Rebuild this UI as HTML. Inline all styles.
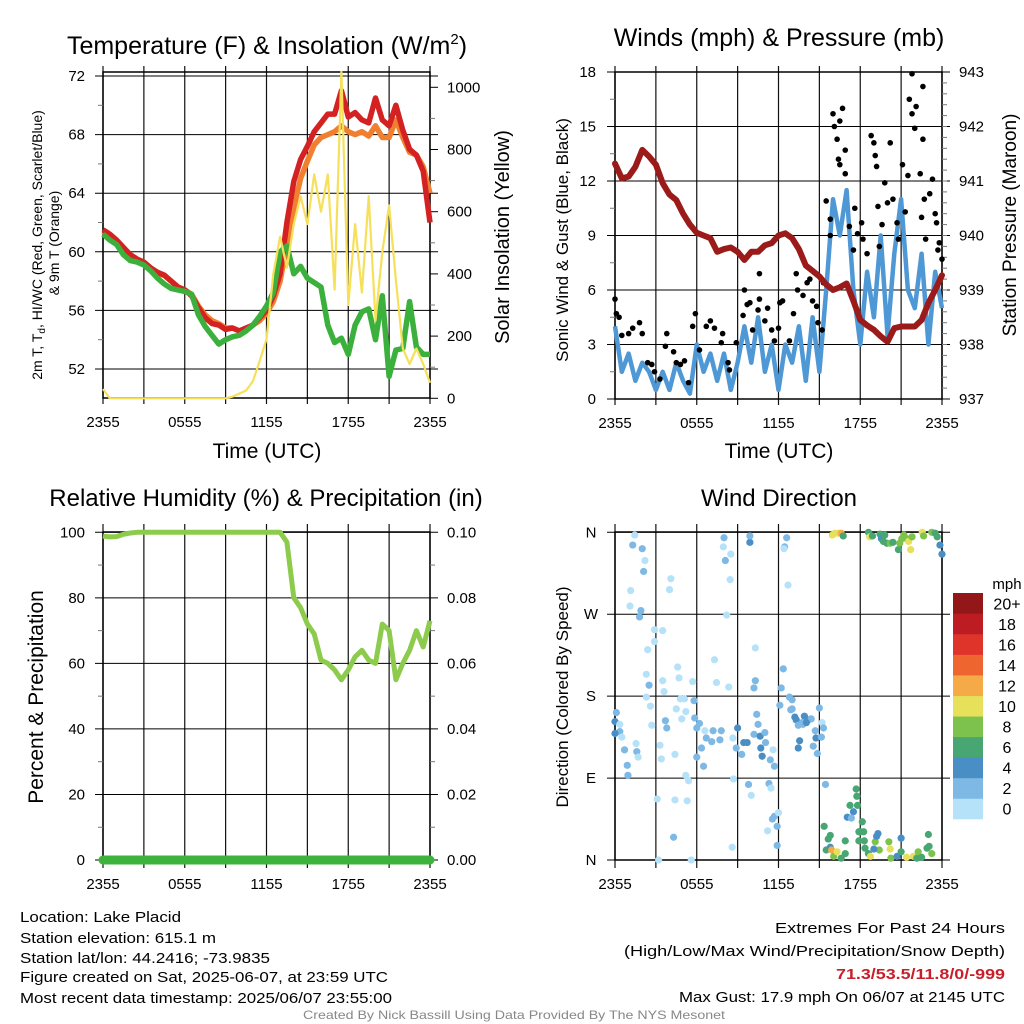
<!DOCTYPE html>
<html><head><meta charset="utf-8"><title>Lake Placid Mesonet</title>
<style>
html,body{margin:0;padding:0;background:#fff;}
svg{display:block;font-family:"Liberation Sans",Arial,sans-serif;}
</style></head>
<body>
<svg id="chart" width="1024" height="1024" viewBox="0 0 1024 1024" xmlns="http://www.w3.org/2000/svg"></svg>
<script>
// ---------- data ----------
const hours = [0,0.5,1,1.5,2,2.5,3,3.5,4,4.5,5,5.5,6,6.5,7,7.5,8,8.5,9,9.5,10,10.5,11,11.5,12,12.5,13,13.5,14,14.5,15,15.5,16,16.5,17,17.5,18,18.5,19,19.5,20,20.5,21,21.5,22,22.5,23,23.5,24];
const timeTickHours = [0,6,12,18,24];
const timeTickLabels = ["2355","0555","1155","1755","2355"];
const tempRed = [61.5,61.2,60.8,60.3,59.8,59.5,59.3,58.9,58.6,58.4,58.0,57.6,57.4,57.0,56.2,55.5,55.1,55.0,54.7,54.8,54.6,54.8,55.0,55.5,56.0,57.0,58.5,62.0,64.8,66.3,67.2,68.2,68.8,69.4,69.4,71.0,69.2,69.5,69.0,68.8,70.5,69.0,68.6,70.0,68.3,67.0,66.6,65.5,62.0];
const temp9m = [61.4,61.1,60.7,60.1,59.7,59.4,59.2,58.9,58.5,58.4,58.0,57.6,57.4,57.1,56.3,55.7,55.3,55.1,54.8,54.8,54.6,54.7,55.0,55.3,55.8,56.6,58.0,60.5,63.0,65.0,66.2,67.3,67.8,68.0,68.2,68.6,68.2,68.0,68.2,67.9,68.6,67.8,67.8,69.0,67.8,66.8,66.6,65.8,64.0];
const dewpoint = [61.2,60.8,60.5,59.8,59.4,59.3,59.1,58.7,58.2,57.8,57.5,57.4,57.3,57.1,55.7,54.9,54.3,53.7,54.0,54.2,54.3,54.6,55.0,55.6,56.3,57.2,60.0,60.4,58.5,59.0,58.2,57.9,57.6,55.0,53.8,54.1,53.0,55.0,55.9,56.1,54.0,57.0,51.5,53.3,53.4,56.6,53.5,53.0,53.0];
const insolation = [30,0,0,0,0,0,0,0,0,0,0,0,0,0,0,0,0,0,0,5,15,25,55,120,190,400,520,420,560,650,560,720,600,720,350,1050,300,560,340,650,250,470,620,380,160,110,160,110,50];
const tempTicks = [52,56,60,64,68,72];
const insolTicks = [0,200,400,600,800,1000];
const windSpeed = [4,1.5,2.5,1,2,1.5,0.5,1.5,0.5,2,1,0.3,3,1.5,2.5,1,2.5,0.5,2,4,2,4.5,1.5,3,0.5,3,2,4,1,4.5,1.5,6,11,9,11.5,6,3,7,4.5,9,3.5,8,11,6,5,8,3,7,5];
const pressure = [941.32,941.05,941.08,941.26,941.57,941.45,941.3,940.96,940.75,940.65,940.4,940.2,940.05,940.0,939.95,939.7,939.75,939.78,939.7,939.55,939.7,939.7,939.82,939.86,940.0,940.04,939.95,939.75,939.45,939.35,939.25,939.1,939.0,939.05,939.12,938.8,938.45,938.35,938.27,938.15,938.05,938.3,938.33,938.33,938.33,938.45,938.76,939.0,939.27];
const gustTimes = [0,0.1,0.3,0.5,1,1.3,1.8,2,2.4,2.7,2.9,3.3,3.8,3.7,4.3,4.5,4.8,5.1,5.4,5.9,5.7,6.2,6.7,7,7.3,7.9,7.8,8.3,8.4,8.9,9.4,9.5,9.7,9.9,10.1,10.5,10.6,10.6,11,11.2,11.5,11.7,12,12.1,12.3,12.8,13.1,13.3,13.4,13.8,14.1,14.3,14.5,14.8,14.9,15.2,15.3,15.5,15.8,15.8,16,16.1,16.3,16.5,16.7,16.9,16.4,16.5,16.9,17.2,17.5,17.6,17.8,18.1,18.2,18.5,18.8,19,19.1,19.2,19.3,19.4,19.6,19.8,20.2,20.0,20.4,20.7,20.8,21.1,21.3,21.5,21.6,21.8,21.8,22,22.1,22.4,22.6,22.6,22.5,22.7,22.8,23.1,23.3,23.5,23.6,23.7,23.8,24];
const gustSpeeds = [5.5,4.7,4.5,3.5,3.6,3.9,4.2,3.6,2.0,1.9,1.5,1.1,3.6,2.9,2.6,2.0,1.9,2.1,0.9,4.7,4.0,2.7,4.0,4.3,3.9,3.6,3.1,2.0,1.6,3.1,4.6,6.0,5.2,5.3,3.8,4.9,5.5,6.9,4.3,5.0,3.8,3.2,3.9,5.3,5.4,3.2,4.7,6.9,6.0,5.7,6.4,6.6,5.4,5.1,4.2,3.8,6.4,10.9,9.9,9.0,15.7,15.0,14.3,15.3,16.0,13.7,13.2,12.9,12.4,9.5,8.2,10.5,9.1,9.7,8.8,8.0,14.5,14.1,13.4,12.8,10.6,8.4,9.6,11.9,14.1,10.8,11.0,9.7,8.8,12.9,10.3,12.3,16.5,15.7,17.9,14.9,16.1,12.4,17.2,14.3,10.0,11.0,8.8,11.3,12.1,10.2,9.7,8.2,8.6,7.7];
const windTicks = [0,3,6,9,12,15,18];
const pressTicks = [937,938,939,940,941,942,943];
const relHumidity = [98.8,98.6,98.7,99.4,99.8,100,100,100,100,100,100,100,100,100,100,100,100,100,100,100,100,100,100,100,100,100,100,97,80,77,72,69,61,60,58,55,58,62,64,61,60,72,70,55,60,64,70,65,73];
const precip = [0,0,0,0,0,0,0,0,0,0,0,0,0,0,0,0,0,0,0,0,0,0,0,0,0,0,0,0,0,0,0,0,0,0,0,0,0,0,0,0,0,0,0,0,0,0,0,0,0];
const rhTicks = [0,20,40,60,80,100];
const precipTickLabels = ["0.00","0.02","0.04","0.06","0.08","0.10"];
const dirTimes = [1.45,1.3,2.0,2.2,2.1,1.15,1.1,1.9,1.8,2.9,2.9,2.4,2.3,2.5,2.3,2.6,2.7,0.1,0,0.35,0.35,0,0.5,0.7,1.55,1.6,1.7,0.9,0.95,4.1,4.0,3.5,3.5,3.6,3.7,3.8,3.3,3.4,3.1,4.4,4.4,4.3,3.2,4.6,4.7,4.8,5.1,4.5,4.9,5.2,5.2,5.4,5.3,5.7,5.8,5.85,6.0,6.2,6.0,6.5,5.6,6.6,6.35,6.7,7.1,7.2,7.3,7.45,7.7,7.8,8.0,7.95,8.1,8.5,8.45,8.2,8.35,8.65,8.7,9.0,8.9,9.3,9.45,9.7,8.6,9.8,10.0,9.9,9.9,10.3,10.3,10.2,10.4,10.5,10.2,10.65,11.0,10.7,10.8,11.05,11.4,11.6,11.7,11.3,11.45,11.2,11.55,11.7,12.0,11.9,11.9,12.6,12.45,12.4,12.7,12.35,12.2,12.1,12.8,13.0,13.0,12.9,13.2,13.3,13.45,13.8,13.9,14.2,14.4,13.55,13.45,13.75,14.05,14.55,14.7,14.75,14.85,15.0,15.2,15.3,15.15,15.45,15.35,15.8,15.65,15.5,15.8,15.9,16.05,16.3,16.6,16.9,16.9,17.7,17.75,17.25,17.5,17.8,17.05,17.35,17.9,18.15,18.0,18.25,17.9,18.3,18.35,18.6,18.75,19.1,19.2,19.3,19.4,19.0,20.1,20.2,20.25,20.7,21.0,21.0,21.4,21.9,22.15,22.25,22.5,22.9,23.0,23.05,23.25,15.95,16.15,16.4,16.6,16.75,18.6,18.7,18.9,19.45,19.55,19.7,19.8,19.95,20.2,20.4,20.8,20.9,21.05,21.2,21.4,21.55,21.7,21.8,22.55,22.65,23.25,23.5,23.65,23.85,24];
const dirDegrees = [357,346,342,329,317,296,279,274,267,253,240,231,204,192,179,169,148,162,152,149,141,139,135,121,128,119,113,104,93,309,297,252,197,185,153,145,126,111,67,116,66,25,0,212,200,177,177,166,155,163,93,87,65,196,175,156,145,150,113,103,0,142,123,134,130,142,220,195,132,142,354,344,329,336,308,269,190,134,89,145,123,116,129,129,14,83,71,349,356,233,197,189,160,149,138,136,140,123,114,129,110,121,103,84,79,32,45,48,52,37,16,354,344,342,302,210,189,170,179,176,166,165,157,154,148,149,158,154,155,131,123,151,151,125,142,134,117,167,151,145,135,83,37,27,23,11,14,11,4,9,2,7,21,78,70,60,53,60,47,46,31,42,31,31,21,21,13,7,4,20,26,29,11,12,20,12,2,4,24,9,3,4,2,9,3,13,28,15,7,357,359,359,359,356,360,355,356,358,353,350,357,348,348,349,341,348,353,357,353,350,341,355,360,356,360,359,355,346,336];
const dirSpeeds = [1,3,3,1,3,1,1,3,3,1,1,1,1,3,1,1,1,3,4,1,3,4,1,3,1,3,1,3,3,1,1,1,1,1,3,3,1,1,1,1,1,3,1,1,1,1,1,1,1,1,1,1,1,1,3,3,3,3,3,3,1,1,3,3,3,3,1,1,3,3,3,1,3,1,1,1,1,1,1,4,3,3,4,4,1,3,1,4,3,1,3,3,3,3,3,4,3,4,4,3,3,1,3,3,1,1,3,3,1,3,3,3,3,1,1,3,3,3,3,3,3,3,4,4,3,3,4,4,3,4,4,3,4,3,3,4,3,3,1,3,3,3,6,6,6,6,4,12,8,10,6,6,6,6,6,6,4,6,4,2,6,6,6,6,6,6,6,6,10,8,4,4,8,4,8,10,8,4,4,6,10,10,6,8,6,6,6,6,8,10,10,10,12,6,6,10,6,6,4,6,6,6,8,6,6,8,8,8,8,10,10,8,10,8,8,6,6,4,4,4,4,4];
const dirTickLabels = ["N","E","S","W","N"];
const speedBins = ["0","2","4","6","8","10","12","14","16","18","20+"];

// ---------- helpers ----------
const NS = "http://www.w3.org/2000/svg";
const svg = document.getElementById('chart');
function mk(tag, attrs, parent){
  const e = document.createElementNS(NS, tag);
  for (const k in attrs) e.setAttribute(k, attrs[k]);
  (parent || svg).appendChild(e);
  return e;
}
function txt(s, x, y, size, anchor, parent, extra){
  const t = mk('text', Object.assign({x:x, y:y, 'font-size':size, 'text-anchor':anchor||'middle', fill:'#000'}, extra||{}), parent);
  t.textContent = s;
  return t;
}
function group(name){
  const g = mk('g', {});
  
  
  return g;
}
function pathFrom(xs, ys){
  let d = '';
  for (let i = 0; i < xs.length; i++) d += (i ? 'L' : 'M') + xs[i].toFixed(1) + ' ' + ys[i].toFixed(1);
  return d;
}
const speedColors = ['#b5e2f8','#7db9e4','#4a8ec6','#48a672','#7dc24c','#e6e05a','#f6aa47','#ef652f','#de3429','#bd1c23','#931619'];
function speedColor(s){ if (s === undefined || isNaN(s)) return speedColors[2]; const i = Math.min(10, Math.floor(s/2)); return speedColors[i]; }

// ---------- scales ----------
const L1 = 103, R1 = 430, L2 = 615, R2 = 942;
const hourPx = (R1 - L1) / 24;
function xLeft(t){ return L1 + t*hourPx; }
function xRight(t){ return L2 + t*hourPx; }
const yTemp = v => 369 - (v - 52) * (293/20);
const yInsol = v => 398.3 - v * (311/1000);
const yWind = v => 399 - v * (327/18);
const yPress = v => 399 - (v - 937) * (327/6);
const yRH = v => 860 - v * (327.7/100);
const yDir = v => 860 - v * (327.7/360);

function frame(g, L, R, T, B, xf, yTicksY, ext){
  for (let h = 0; h <= 24; h += 3){
    const x = xf(h);
    mk('line', {x1:x, x2:x, y1:T-ext, y2:B+ext, stroke:'#111', 'stroke-width':1.2}, g);
  }
  yTicksY.forEach(y => mk('line', {x1:L-8, x2:R+8, y1:y, y2:y, stroke:'#000', 'stroke-width':1}, g));
  mk('rect', {x:L, y:T, width:R-L, height:B-T, fill:'none', stroke:'#000', 'stroke-width':1.5}, g);
  timeTickHours.forEach((h, i) => {
    const lbl = txt(timeTickLabels[i], xf(h), B+29, 15, 'middle', g);
    
    
  });
}

// ---------- Panel 1: Temperature ----------
(function(){
  const g = group('temperature-panel');
  const T = 72, B = 398;
  frame(g, L1, R1, T, B, xLeft, tempTicks.map(yTemp), 6);
  for (let v = 54; v <= 70; v += 4) mk('line', {x1:L1-5, x2:L1, y1:yTemp(v), y2:yTemp(v), stroke:'#777'}, g);
  tempTicks.forEach(v => { const t = txt(String(v), 85, yTemp(v)+5, 15, 'end', g);   });
  insolTicks.forEach(v => { mk('line', {x1:R1, x2:R1+8, y1:yInsol(v), y2:yInsol(v), stroke:'#000'}, g); const t = txt(String(v), 447, yInsol(v)+5, 15, 'start', g);   });
  for (let v = 100; v <= 1000; v += 200) mk('line', {x1:R1, x2:R1+5, y1:yInsol(v), y2:yInsol(v), stroke:'#777'}, g);
  const xs = hours.map(xLeft);
  const orange = mk('path', {d:pathFrom(xs, temp9m.map(yTemp)), fill:'none', stroke:'#f08030', 'stroke-width':5.5, 'stroke-linejoin':'round'}, g);
  
  
  const red = mk('path', {d:pathFrom(xs, tempRed.map(yTemp)), fill:'none', stroke:'#d42222', 'stroke-width':5.5, 'stroke-linejoin':'round'}, g);
  
  
  const green = mk('path', {d:pathFrom(xs, dewpoint.map(yTemp)), fill:'none', stroke:'#3cb03c', 'stroke-width':5.5, 'stroke-linejoin':'round'}, g);
  
  
  const yel = mk('path', {d:pathFrom(xs, insolation.map(yInsol)), fill:'none', stroke:'#f6e05a', 'stroke-width':2.2, 'stroke-linejoin':'round'}, g);
  
  
  const title = mk('text', {x:267, y:54, 'font-size':25, 'text-anchor':'middle'}, g);
  
  
  title.innerHTML = 'Temperature (F) &amp; Insolation (W/m<tspan font-size="15" dy="-10">2</tspan><tspan dy="10">)</tspan>';
  const xl = txt('Time (UTC)', 267, 458, 21, 'middle', g);
  
  
  const yl1 = mk('text', {x:0, y:0, 'font-size':14, 'text-anchor':'middle', transform:'translate(42,245) rotate(-90)'}, g);
  
  
  yl1.innerHTML = '2m T, T<tspan font-size="10" dy="3">d</tspan><tspan dy="-3">, HI/WC (Red, Green, Scarlet/Blue)</tspan>';
  const yl2 = txt('& 9m T (Orange)', 0, 0, 14, 'middle', g, {transform:'translate(59,243) rotate(-90)'});
  
  
  const yr = txt('Solar Insolation (Yellow)', 0, 0, 20, 'middle', g, {transform:'translate(509,237) rotate(-90)'});
  
  
})();

// ---------- Panel 2: Winds ----------
(function(){
  const g = group('winds-panel');
  const T = 72, B = 399;
  frame(g, L2, R2, T, B, xRight, windTicks.map(yWind), 6);
  for (let v = 1.5; v < 18; v += 3) mk('line', {x1:L2-5, x2:L2, y1:yWind(v), y2:yWind(v), stroke:'#777'}, g);
  for (let v = 937.2; v < 943; v += 0.2) mk('line', {x1:R2, x2:R2+5, y1:yPress(v), y2:yPress(v), stroke:'#777'}, g);
  windTicks.forEach(v => { const t = txt(String(v), 596, yWind(v)+5, 15, 'end', g);   });
  pressTicks.forEach(v => { const t = txt(String(v), 959, yPress(v)+5, 15, 'start', g);   });
  const xs = hours.map(xRight);
  const blue = mk('path', {d:pathFrom(xs, windSpeed.map(yWind)), fill:'none', stroke:'#4f98d6', 'stroke-width':4.5, 'stroke-linejoin':'round'}, g);
  
  
  gustTimes.forEach((t, i) => {
    const c = mk('circle', {cx:xRight(t), cy:yWind(gustSpeeds[i]), r:2.8, fill:'#000'}, g);
    
    
  });
  const pr = mk('path', {d:pathFrom(xs, pressure.map(yPress)), fill:'none', stroke:'#9b1b1b', 'stroke-width':6, 'stroke-linejoin':'round', 'stroke-linecap':'round'}, g);
  
  
  const title = txt('Winds (mph) & Pressure (mb)', 779, 46, 25, 'middle', g);
  
  
  const xl = txt('Time (UTC)', 779, 458, 21, 'middle', g);
  
  
  const yl = txt('Sonic Wind & Gust (Blue, Black)', 0, 0, 17, 'middle', g, {transform:'translate(568,240) rotate(-90)'});
  
  
  const yr = txt('Station Pressure (Maroon)', 0, 0, 19, 'middle', g, {transform:'translate(1016,225) rotate(-90)'});
  
  
})();

// ---------- Panel 3: RH ----------
(function(){
  const g = group('humidity-panel');
  const T = 532, B = 860;
  frame(g, L1, R1, T, B, xLeft, rhTicks.map(yRH), 8);
  for (let v = 10; v < 100; v += 20) { mk('line', {x1:L1-5, x2:L1, y1:yRH(v), y2:yRH(v), stroke:'#777'}, g); mk('line', {x1:R1, x2:R1+5, y1:yRH(v), y2:yRH(v), stroke:'#777'}, g); }
  rhTicks.forEach((v, i) => {
    const t = txt(String(v), 85, yRH(v)+5, 15, 'end', g);  
    const r = txt(precipTickLabels[i], 447, yRH(v)+5, 15, 'start', g);  
  });
  const xs = hours.map(xLeft);
  const pl = mk('path', {d:pathFrom(xs, precip.map(v => yRH(v*1000))), fill:'none', stroke:'#3cb43c', 'stroke-width':9, 'stroke-linecap':'round'}, g);
  
  
  const rh = mk('path', {d:pathFrom(xs, relHumidity.map(yRH)), fill:'none', stroke:'#8ccb4c', 'stroke-width':5, 'stroke-linejoin':'round'}, g);
  
  
  const title = txt('Relative Humidity (%) & Precipitation (in)', 266, 506, 24, 'middle', g);
  
  
  const yl = txt('Percent & Precipitation', 0, 0, 21, 'middle', g, {transform:'translate(43,697) rotate(-90)'});
  
  
})();

// ---------- Panel 4: Wind direction ----------
(function(){
  const g = group('wind-direction-panel');
  const T = 532, B = 860;
  const dirTicks = [0,90,180,270,360];
  frame(g, L2, R2, T, B, xRight, dirTicks.map(yDir), 8);
  dirTicks.forEach((v, i) => { const t = txt(dirTickLabels[i], 591, yDir(v)+5, 15, 'middle', g);   });
  dirTimes.forEach((t, i) => {
    const c = mk('circle', {cx:xRight(t), cy:yDir(dirDegrees[i]), r:3.6, fill:speedColor(dirSpeeds[i])}, g);
    
    
  });
  const title = txt('Wind Direction', 779, 506, 24, 'middle', g);
  
  
  const yl = txt('Direction (Colored By Speed)', 0, 0, 17, 'middle', g, {transform:'translate(568,697) rotate(-90)'});
  
  
  const lg = group('speed-legend');
  const bh = (819-593)/11;
  speedBins.forEach((lab, i) => {
    const y = 819 - (i+1)*bh;
    const r = mk('rect', {x:953, y:y, width:30, height:bh+0.3, fill:speedColors[i]}, lg);
    
    
    const t = txt(lab, 1007, y + bh/2 + 6, 16, 'middle', lg);
    
    
  });
  const m = txt('mph', 1007, 589, 15, 'middle', lg);
  
  
})();

// ---------- footer ----------
(function(){
  const g = group('footer');
  const left = [["Location: Lake Placid",922,161],["Station elevation: 615.1 m",943,196],["Station lat/lon: 44.2416; -73.9835",963,250],["Figure created on Sat, 2025-06-07, at 23:59 UTC",982,368],["Most recent data timestamp: 2025/06/07 23:55:00",1003,372]];
  left.forEach(r => { const t = txt(r[0], 20, r[1], 15, 'start', g, {textLength:r[2], lengthAdjust:'spacingAndGlyphs'});   });
  const right = [["Extremes For Past 24 Hours",933,'#000','normal',230],["(High/Low/Max Wind/Precipitation/Snow Depth)",956,'#000','normal',381],["71.3/53.5/11.8/0/-999",979,'#c8202a','bold',169],["Max Gust: 17.9 mph On 06/07 at 2145 UTC",1002,'#000','normal',326]];
  right.forEach(r => { const t = txt(r[0], 1005, r[1], 15, 'end', g, {fill:r[2], 'font-weight':r[3], textLength:r[4], lengthAdjust:'spacingAndGlyphs'});   });
  const c = txt('Created By Nick Bassill Using Data Provided By The NYS Mesonet', 514, 1019, 12, 'middle', g, {fill:'#888', textLength:422, lengthAdjust:'spacingAndGlyphs'});
  
  
})();
</script>
</body></html>
